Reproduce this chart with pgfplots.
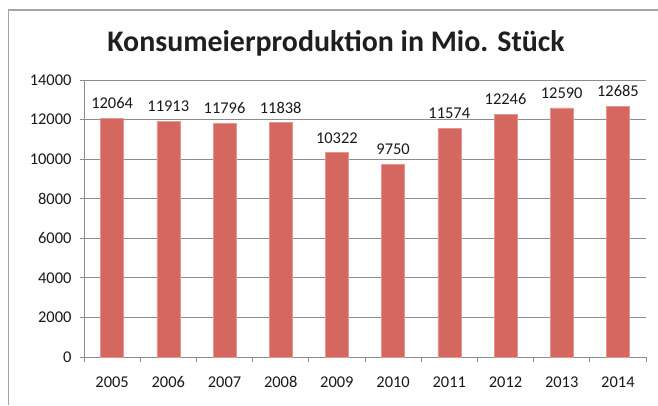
\documentclass[border=0pt]{standalone}
\usepackage{fontspec}
\setmainfont{Carlito}
\usepackage{pgfplots}
\pgfplotsset{compat=1.18}
\definecolor{barred}{RGB}{212,103,95}
\definecolor{baredge}{RGB}{230,150,145}
\definecolor{gridgray}{RGB}{140,140,140}
\definecolor{framegray}{RGB}{165,165,165}
\begin{document}
\begin{tikzpicture}[x=1bp,y=1bp]
\useasboundingbox (0,0) rectangle (658,405);
\draw[framegray, line width=1.2bp] (8.5,0) -- (8.5,395) -- (658,395);
\node[font=\fontsize{30}{33}\selectfont\bfseries, text=black!88, inner sep=0pt] at (336,362) {Konsumeierproduktion in Mio. Stück};
\begin{axis}[
  at={(84bp,48bp)}, anchor=south west,
  width=562bp, height=277bp, scale only axis,
  xmin=-0.5, xmax=9.5, ymin=0, ymax=14000,
  ytick={0,2000,...,14000},
  xtick={0,...,9},
  xticklabels={2005,2006,2007,2008,2009,2010,2011,2012,2013,2014},
  major x tick style={draw=none},
  minor xtick={-0.5,0.5,...,9.5},
  axis x line*=bottom, axis y line*=left,
  axis line style={-, gridgray, line width=1bp},
  ymajorgrids, grid style={gridgray, line width=0.8bp},
  tick align=outside, major tick length=4bp, minor tick length=5bp,
  tick style={gridgray, line width=0.8bp},
  minor tick style={gridgray, line width=0.8bp},
  tick label style={font=\fontsize{16.5}{19}\selectfont, text=black!90},
  xticklabel style={yshift=-12bp},
  yticklabel style={xshift=-5bp},
  scaled y ticks=false,
  /pgf/number format/.cd, 1000 sep={}, assume math mode=true,
]
\addplot[ybar, bar width=23bp, fill=barred, draw=baredge, line width=0.6bp,
  nodes near coords,
  nodes near coords style={font=\fontsize{16.5}{19}\selectfont, text=black!90, yshift=6bp, /pgf/number format/1000 sep={}},
] coordinates {
(0,12064) (1,11913) (2,11796) (3,11838) (4,10322)
(5,9750) (6,11574) (7,12246) (8,12590) (9,12685)
};
\end{axis}
\end{tikzpicture}
\end{document}
